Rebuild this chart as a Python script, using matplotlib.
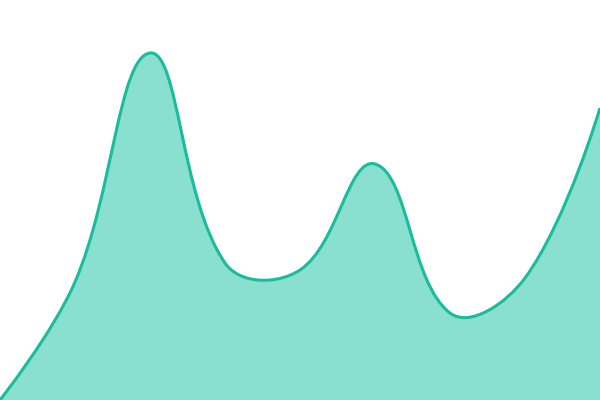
import numpy as np
import matplotlib
matplotlib.use("Agg")
import matplotlib.pyplot as plt
from matplotlib.path import Path
from matplotlib.patches import PathPatch

# data (value = height above bottom, 0..400)
categories = list(range(9))
values = [0, 118, 347, 137, 130, 236, 87, 122, 292]

LINE_COLOR = "#1abc9c"
FILL_COLOR = "#8ae0cf"
SMOOTH = 0.4


def smooth_controls(pts, smooth=SMOOTH):
    """Bezier control points for a 'smooth' line: each arm is split
    by the distance to the neighbouring points."""
    n = len(pts)
    cps = []
    for i in range(n):
        if i == 0 or i == n - 1:
            cps.append(pts[i].copy())
            continue
        prev_p, p, next_p = pts[i - 1], pts[i], pts[i + 1]
        v = (next_p - prev_p) * smooth
        d0 = np.hypot(*(p - prev_p))
        d1 = np.hypot(*(p - next_p))
        s = d0 + d1
        if s:
            d0, d1 = d0 / s, d1 / s
        cps.append(p - v * d0)
        cps.append(p + v * d1)
    return cps


fig = plt.figure(figsize=(6, 4), dpi=100)
ax = fig.add_axes([0, 0, 1, 1])
ax.set_xlim(categories[0], categories[-1])
ax.set_ylim(0, 400)
ax.axis("off")

# build the curve in screen space, then map it back to data space
pix = ax.transData.transform(np.column_stack([categories, values]))
cps = smooth_controls(pix)
verts = [pix[0]]
codes = [Path.MOVETO]
for i in range(len(pix) - 1):
    verts += [cps[2 * i], cps[2 * i + 1], pix[i + 1]]
    codes += [Path.CURVE4] * 3
verts = ax.transData.inverted().transform(np.array(verts))
verts = [tuple(v) for v in verts]

# area under the curve, closed along the bottom
fill_verts = verts + [(categories[-1], 0), (categories[0], 0), verts[0]]
fill_codes = codes + [Path.LINETO, Path.LINETO, Path.CLOSEPOLY]
ax.add_patch(PathPatch(Path(fill_verts, fill_codes), facecolor=FILL_COLOR,
                       edgecolor="none"))
ax.add_patch(PathPatch(Path(verts, codes), facecolor="none",
                       edgecolor=LINE_COLOR, linewidth=2.2))

fig.savefig("out.png", dpi=100)
